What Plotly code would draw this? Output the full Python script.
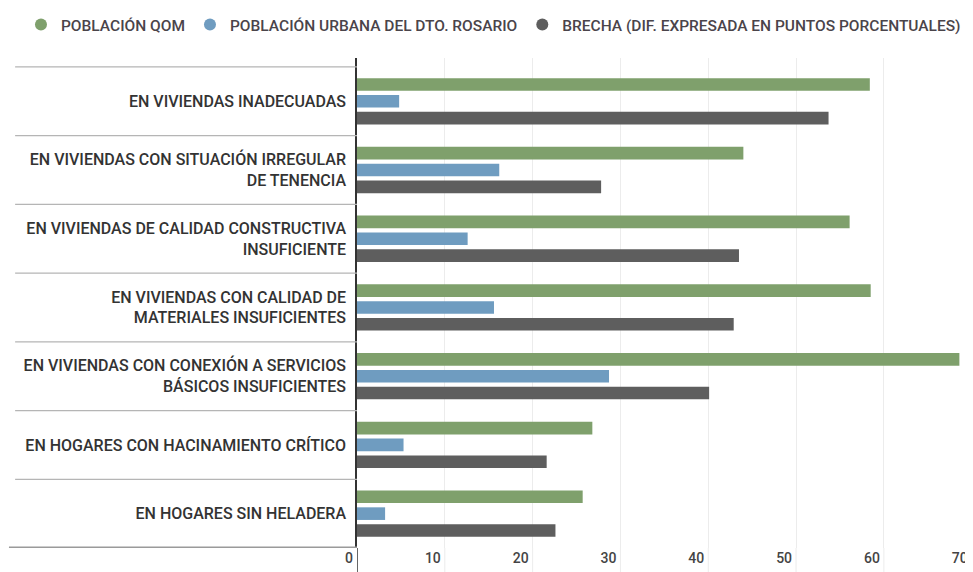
import plotly.graph_objects as go

categorias = [
    "EN VIVIENDAS INADECUADAS",
    "EN VIVIENDAS CON SITUACIÓN IRREGULAR<br>DE TENENCIA",
    "EN VIVIENDAS DE CALIDAD CONSTRUCTIVA<br>INSUFICIENTE",
    "EN VIVIENDAS CON CALIDAD DE<br>MATERIALES INSUFICIENTES",
    "EN VIVIENDAS CON CONEXIÓN A SERVICIOS<br>BÁSICOS INSUFICIENTES",
    "EN HOGARES CON HACINAMIENTO CRÍTICO",
    "EN HOGARES SIN HELADERA",
]
poblacion_qom = [58.4, 44.0, 56.1, 58.5, 68.6, 26.8, 25.7]
poblacion_urbana = [4.8, 16.2, 12.6, 15.6, 28.7, 5.3, 3.2]
brecha = [53.7, 27.8, 43.5, 42.9, 40.1, 21.6, 22.6]
ticks_x = [0, 10, 20, 30, 40, 50, 60, 70]

series = [
    ("POBLACIÓN QOM", poblacion_qom, "#7fa06c"),
    ("POBLACIÓN URBANA DEL DTO. ROSARIO", poblacion_urbana, "#6f9cc0"),
    ("BRECHA (DIF. EXPRESADA EN PUNTOS PORCENTUALES)", brecha, "#5e5e5e"),
]

fig = go.Figure()

for nombre, valores, color in series:
    fig.add_trace(
        go.Bar(
            y=list(range(len(categorias))),
            x=valores,
            orientation="h",
            name=nombre,
            marker=dict(color=color, line=dict(width=0)),
            showlegend=False,
        )
    )
    # legend entry with round marker
    fig.add_trace(
        go.Scatter(
            x=[None],
            y=[None],
            mode="markers",
            name=nombre,
            marker=dict(color=color, size=15, symbol="circle"),
        )
    )

# separators between categories (left of the axis)
for i in range(len(categorias) + 1):
    ultimo = i == len(categorias)
    fig.add_shape(
        type="line",
        xref="paper",
        yref="y",
        x0=-0.555 if not ultimo else -0.565,
        x1=0,
        y0=i - 0.5,
        y1=i - 0.5,
        line=dict(color="#9a9a9a" if ultimo else "#b5b5b5", width=3 if ultimo else 1.2),
    )

# gridlines and axis line run down through the tick label strip
for t in ticks_x:
    fig.add_shape(
        type="line",
        xref="x",
        yref="paper",
        x0=t,
        x1=t,
        y0=-0.06,
        y1=0,
        line=dict(color="#333333" if t == 0 else "#ececec", width=1.5 if t == 0 else 1),
    )

# page body adds an 8px offset, so the figure is 8px smaller than the window
fig.update_layout(
    width=965,
    height=564,
    barmode="group",
    bargap=0.265,
    bargroupgap=0.25,
    plot_bgcolor="white",
    paper_bgcolor="white",
    font=dict(family="Roboto", size=16, color="#3a3a3a"),
    margin=dict(l=349, r=0, t=45, b=24),
    legend=dict(
        orientation="h",
        x=-0.5455,
        xanchor="left",
        y=1.068,
        yanchor="middle",
        font=dict(family="Roboto", size=15.5, color="#4a444a", weight=500),
        itemsizing="constant",
        tracegroupgap=0,
    ),
)

fig.update_xaxes(
    range=[0, 70.15],
    tickvals=ticks_x,
    ticktext=[str(t) for t in ticks_x],
    ticklabelposition="outside left",
    ticklabelshift=-4,
    showgrid=True,
    gridcolor="#ececec",
    gridwidth=1,
    zeroline=False,
    showline=False,
    ticks="",
    automargin=False,
    tickfont=dict(family="Roboto", size=14, color="#444444", weight=500),
)

fig.update_yaxes(
    range=[len(categorias) - 0.5, -0.63],
    tickvals=list(range(len(categorias))),
    ticktext=categorias,
    showgrid=False,
    zeroline=False,
    showline=True,
    linecolor="#333333",
    linewidth=1.5,
    ticks="",
    ticklabelstandoff=6,
    automargin=False,
    tickfont=dict(family="Roboto", size=16, color="#333333", weight=500),
)

fig.write_html("out.html")
